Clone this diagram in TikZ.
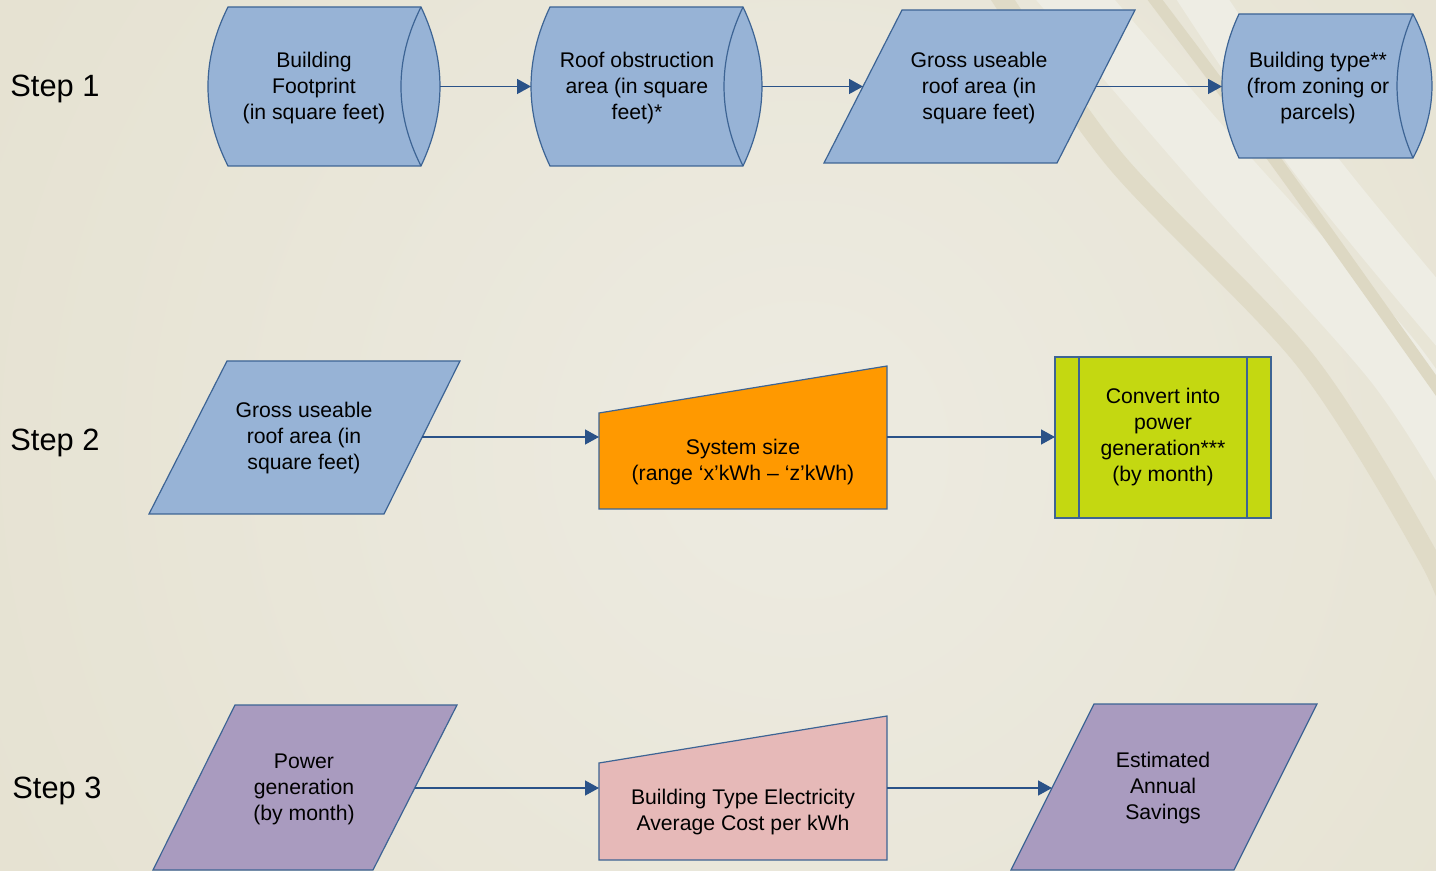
\documentclass[tikz,border=0pt]{standalone}
\usepackage{fontspec}
\setmainfont{Liberation Sans}
\usetikzlibrary{arrows.meta}
\definecolor{fillblue}{HTML}{97B3D6}
\definecolor{fillorange}{HTML}{FF9900}
\definecolor{fillgreen}{HTML}{C4D811}
\definecolor{fillpink}{HTML}{E6B9B8}
\definecolor{fillpurple}{HTML}{A99BBF}
\definecolor{shpborder}{HTML}{3D6494}
\definecolor{arrcol}{HTML}{2A5288}
\definecolor{bgout}{HTML}{E0DBC6}
\definecolor{bgin}{HTML}{EDEBE1}
\definecolor{swdark}{HTML}{E0DBC7}
\definecolor{swdarkb}{HTML}{DDD8C3}
\definecolor{swlight}{HTML}{EEEDE4}
\begin{document}
\begin{tikzpicture}[x=0.5pt,y=-0.5pt,
  shp/.style={draw=shpborder, line width=0.6pt, line join=miter},
  lbl/.style={align=center, font=\fontsize{10.6pt}{13pt}\selectfont, inner sep=0pt, text=black},
  steplbl/.style={anchor=base west, font=\fontsize{15.4pt}{18pt}\selectfont, inner sep=0pt, text=black},
  arr/.style={draw=arrcol, line width=0.7pt, -{Triangle[length=7pt,width=7.5pt]}}]
\useasboundingbox (0,0) rectangle (1436,871);
% background
\begin{scope}
\clip (0,0) rectangle (1436,871);
\shade[inner color=bgin, outer color=bgout] (-800,-1150) rectangle (2400,2050);
\draw[line width=10pt, color=swdark] plot[smooth] coordinates {(990,-20) (1115,160) (1305,360) (1430,560) (1460,640)};
\draw[line width=30pt, color=swlight] plot[smooth] coordinates {(1050,-30) (1213,160) (1392,360) (1470,480)};
\draw[line width=6pt, color=swdarkb] plot[smooth] coordinates {(1140,-20) (1275,160) (1425,370) (1460,420)};
\draw[line width=22pt, color=swlight] plot[smooth] coordinates {(1190,-20) (1312,160) (1460,340)};
\end{scope}

% Step 1 shapes
\filldraw[shp, fill=fillblue] (228,7) -- (421,7) .. controls (446.3,60) and (446.3,113) .. (421,166) -- (228,166) .. controls (201.3,113) and (201.3,60) .. cycle;
\draw[shp] (421,7) .. controls (394.3,60) and (394.3,113) .. (421,166);
\filldraw[shp, fill=fillblue] (550,7) -- (743,7) .. controls (768.3,60) and (768.3,113) .. (743,166) -- (550,166) .. controls (524.7,113) and (524.7,60) .. cycle;
\draw[shp] (743,7) .. controls (717.7,60) and (717.7,113) .. (743,166);
\filldraw[shp, fill=fillblue] (902,10) -- (1135,10) -- (1057,163) -- (824,163) -- cycle;
\filldraw[shp, fill=fillblue] (1239,14) -- (1413,14) .. controls (1438.3,62) and (1438.3,110) .. (1413,158) -- (1239,158) .. controls (1216.3,110) and (1216.3,62) .. cycle;
\draw[shp] (1413,14) .. controls (1391.7,62) and (1391.7,110) .. (1413,158);

% Step 2 shapes
\filldraw[shp, fill=fillblue] (227,361) -- (460,361) -- (384,514) -- (149,514) -- cycle;
\filldraw[shp, fill=fillorange] (599,413) -- (887,366) -- (887,509) -- (599,509) -- cycle;
\filldraw[shp, fill=fillgreen] (1055,357) rectangle (1271,518);
\draw[shp] (1079,357) -- (1079,518) (1247,357) -- (1247,518);

% Step 3 shapes
\filldraw[shp, fill=fillpurple] (235,705) -- (457,705) -- (373,870) -- (153,870) -- cycle;
\filldraw[shp, fill=fillpink] (599,763) -- (887,716) -- (887,860) -- (599,860) -- cycle;
\filldraw[shp, fill=fillpurple] (1094,704) -- (1317,704) -- (1234,870) -- (1011,870) -- cycle;

% connector end points
\coordinate (bf-out) at (440,86.5);
\coordinate (ro-in) at (531,86.5);
\coordinate (ro-out) at (762,86.5);
\coordinate (gr-in) at (863,86.5);
\coordinate (gr-out) at (1096,86.5);
\coordinate (bt-in) at (1222,86.5);
\coordinate (g2-out) at (422,437);
\coordinate (ss-in) at (599,437);
\coordinate (ss-out) at (887,437);
\coordinate (cv-in) at (1055,437);
\coordinate (pg-out) at (415,788);
\coordinate (ec-in) at (599,788);
\coordinate (ec-out) at (887,788);
\coordinate (es-in) at (1052,788);

\draw[arr] (bf-out) -- (ro-in);
\draw[arr] (ro-out) -- (gr-in);
\draw[arr] (gr-out) -- (bt-in);
\draw[arr] (g2-out) -- (ss-in);
\draw[arr] (ss-out) -- (cv-in);
\draw[arr] (pg-out) -- (ec-in);
\draw[arr] (ec-out) -- (es-in);

% texts
\node[steplbl] (s1) at (10,97) {Step 1};
\node[steplbl] (s2) at (10,451) {Step 2};
\node[steplbl] (s3) at (12,798) {Step 3};

\node[lbl] (t1) at (314,88) {Building\\Footprint\\(in square feet)};
\node[lbl] (t2) at (637,88) {Roof obstruction\\area (in square\\feet)*};
\node[lbl] (t3) at (979,88) {Gross useable\\roof area (in\\square feet)};
\node[lbl] (t4) at (1318,88) {Building type**\\(from zoning or\\parcels)};
\node[lbl] (t5) at (304,438) {Gross useable\\roof area (in\\square feet)};
\node[lbl] (t6) at (743,462.5) {System size\\(range ‘x’kWh – ‘z’kWh)};
\node[lbl] (t7) at (1163,437.5) {Convert into\\power\\generation***\\(by month)};
\node[lbl] (t8) at (304,789) {Power\\generation\\(by month)};
\node[lbl] (t9) at (743,812.5) {Building Type Electricity\\Average Cost per kWh};
\node[lbl] (t10) at (1163,788.5) {Estimated\\Annual\\Savings};
\end{tikzpicture}
\end{document}
